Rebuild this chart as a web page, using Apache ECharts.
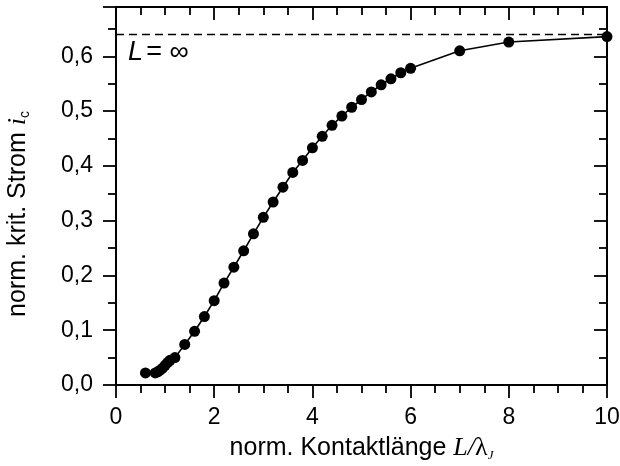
<!DOCTYPE html>
<html>
<head>
<meta charset="utf-8">
<script src="https://cdn.jsdelivr.net/npm/echarts@6/dist/echarts.min.js"></script>
<style>
  html, body { margin: 0; padding: 0; background: #fff; }
  #chart { width: 620px; height: 466px; }
</style>
</head>
<body>
<div id="chart"></div>
<script>
// Kontaktlänge L/λJ
let lengthValues = [0.6, 0.8, 0.85, 0.9, 0.95, 1.0, 1.05, 1.1, 1.2, 1.4, 1.6, 1.8, 2.0, 2.2, 2.4, 2.6, 2.8,
  3.0, 3.2, 3.4, 3.6, 3.8, 4.0, 4.2, 4.4, 4.6, 4.8, 5.0, 5.2, 5.4, 5.6, 5.8, 6.0, 7, 8, 10]
// norm. krit. Strom ic
let currentValues = [0.022, 0.022, 0.024, 0.027, 0.031, 0.036, 0.041, 0.045, 0.050, 0.074, 0.098, 0.125,
  0.154, 0.186, 0.215, 0.245, 0.276, 0.306, 0.334, 0.361, 0.388, 0.410, 0.433, 0.454, 0.474, 0.491,
  0.507, 0.521, 0.535, 0.548, 0.559, 0.570, 0.578, 0.610, 0.626, 0.636]
// Grenzwert L = ∞
let limitValue = 0.6366

let sans = 'Liberation Sans'
let serif = 'Liberation Serif'
let black = '#000'

let chart = echarts.init(document.getElementById('chart'), null, { renderer: 'canvas' })

function frameAxis (extra) {
  return Object.assign({
    type: 'value',
    axisLine: { show: true, onZero: false, lineStyle: { color: black, width: 2 } },
    axisTick: { show: true, inside: true, length: 13, lineStyle: { color: black, width: 1.8 } },
    minorTick: { show: true, length: 8, lineStyle: { color: black, width: 1.8 } },
    axisLabel: { show: false },
    splitLine: { show: false }
  }, extra)
}

let option = {
  animation: false,
  backgroundColor: '#fff',
  grid: { left: 116, right: 13, top: 7, bottom: 81, containLabel: false, outerBoundsMode: 'none' },
  xAxis: [
    frameAxis({
      position: 'bottom',
      min: 0,
      max: 10,
      interval: 2,
      axisTick: { show: true, inside: false, length: 13, lineStyle: { color: black, width: 1.8 } },
      minorTick: { show: true, splitNumber: 4, length: 8, lineStyle: { color: black, width: 1.8 } },
      axisLabel: { show: true, margin: 21, fontSize: 23, fontFamily: sans, color: black },
      name: '{n|norm. Kontaktlänge }{i|L/}{l|λ}{s|J}',
      nameLocation: 'middle',
      nameGap: 50,
      nameTextStyle: {
        rich: {
          n: { fontSize: 25, fontFamily: sans, color: black },
          i: { fontSize: 26, fontFamily: serif, fontStyle: 'italic', color: black },
          l: { fontSize: 26, fontFamily: serif, color: black },
          s: { fontSize: 13, fontFamily: serif, fontStyle: 'italic', color: black, verticalAlign: 'bottom', padding: [14, 0, 0, 0] }
        }
      }
    }),
    frameAxis({
      position: 'top',
      min: 0,
      max: 10,
      interval: 2,
      minorTick: { show: true, splitNumber: 4, length: 8, lineStyle: { color: black, width: 1.8 } }
    })
  ],
  yAxis: [
    frameAxis({
      position: 'left',
      min: 0,
      max: 0.69,
      interval: 0.1,
      axisTick: { show: true, inside: false, length: 13, lineStyle: { color: black, width: 1.8 } },
      minorTick: { show: true, splitNumber: 2, length: 8, lineStyle: { color: black, width: 1.8 } },
      axisLabel: {
        show: true,
        margin: 23,
        fontSize: 23,
        fontFamily: sans,
        color: black,
        showMaxLabel: false,
        formatter: function (v) { return v.toFixed(1).replace('.', ',') }
      },
      name: '{n|norm. krit. Strom }{i|i}{s|c}',
      nameLocation: 'middle',
      nameGap: 84,
      nameTextStyle: {
        padding: [0, 36, 0, 0],
        rich: {
          n: { fontSize: 25, fontFamily: sans, color: black },
          i: { fontSize: 26, fontFamily: serif, fontStyle: 'italic', color: black },
          s: { fontSize: 14, fontFamily: sans, color: black, verticalAlign: 'bottom', padding: [14, 0, 0, 0] }
        }
      }
    }),
    frameAxis({
      position: 'right',
      min: 0,
      max: 0.69,
      interval: 0.1,
      minorTick: { show: true, splitNumber: 2, length: 8, lineStyle: { color: black, width: 1.8 } }
    })
  ],
  series: [
    {
      name: 'ic',
      type: 'line',
      data: lengthValues.map(function (x, i) { return [x, currentValues[i]] }),
      symbol: 'circle',
      symbolSize: 11,
      showAllSymbol: true,
      clip: true,
      itemStyle: { color: black },
      lineStyle: { color: black, width: 1.6 },
      markLine: {
        silent: true,
        symbol: 'none',
        lineStyle: { color: black, width: 1.3, type: [8, 5] },
        label: {
          show: true,
          position: 'insideStartBottom',
          distance: [12, 5],
          formatter: '{l|L} {e|= ∞}',
          rich: {
            l: { fontSize: 27, fontFamily: sans, fontStyle: 'italic', color: black },
            e: { fontSize: 27, fontFamily: sans, color: black }
          }
        },
        data: [{ yAxis: limitValue }]
      }
    }
  ]
}
chart.setOption(option)
</script>
</body>
</html>
